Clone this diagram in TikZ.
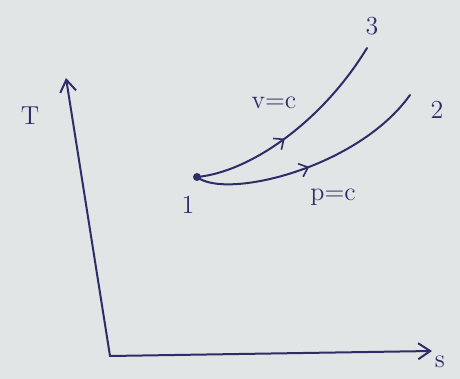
\documentclass[tikz,border=0pt]{standalone}
\usetikzlibrary{arrows.meta,decorations.markings}
\definecolor{ink}{RGB}{45,45,105}
\definecolor{paper}{RGB}{226,229,229}
\tikzset{
  ink line/.style={draw=ink,line width=1pt,line cap=round},
  lbl/.style={text=ink,font=\fontsize{13}{15}\selectfont,inner sep=0pt},
  midarrow/.style={postaction={decorate},decoration={markings,mark=at position #1 with {\arrow[ink,line width=0.8pt]{Straight Barb[length=4pt,width=7pt]}}}}
}
\begin{document}
\begin{tikzpicture}[x=0.5pt,y=-0.5pt]
\fill[paper] (0,0) rectangle (460,379);
\useasboundingbox (0,0) rectangle (460,379);
% axes
\coordinate (O) at (110,356);
\coordinate (Ttop) at (66,78);
\coordinate (Send) at (432,351);
\draw[ink line,-{Straight Barb[length=6pt,width=8pt]}] (O) -- (Ttop);
\draw[ink line,-{Straight Barb[length=6pt,width=8pt]}] (O) -- (Send);
\node[lbl] (Tl) at (30,116) {T};
\node[lbl] (Sl) at (440,362) {s};
% states
\coordinate (p1) at (197,177);
\coordinate (p2) at (410,95);
\coordinate (p3) at (367,48);
\fill[ink] (p1) circle (2pt);
\node[lbl] (l1) at (188,205) {1};
\node[lbl] (l2) at (437,110) {2};
\node[lbl] (l3) at (372,26) {3};
% processes
\draw[ink line,midarrow=0.44] (p1) .. controls (250,172) and (322,122) .. (p3);
\draw[ink line,midarrow=0.48] (p1) .. controls (226,200) and (358,168) .. (p2);
\node[lbl] (vc) at (274,103) {v=c};
\node[lbl] (pc) at (333,197) {p=c};
\end{tikzpicture}
\end{document}
